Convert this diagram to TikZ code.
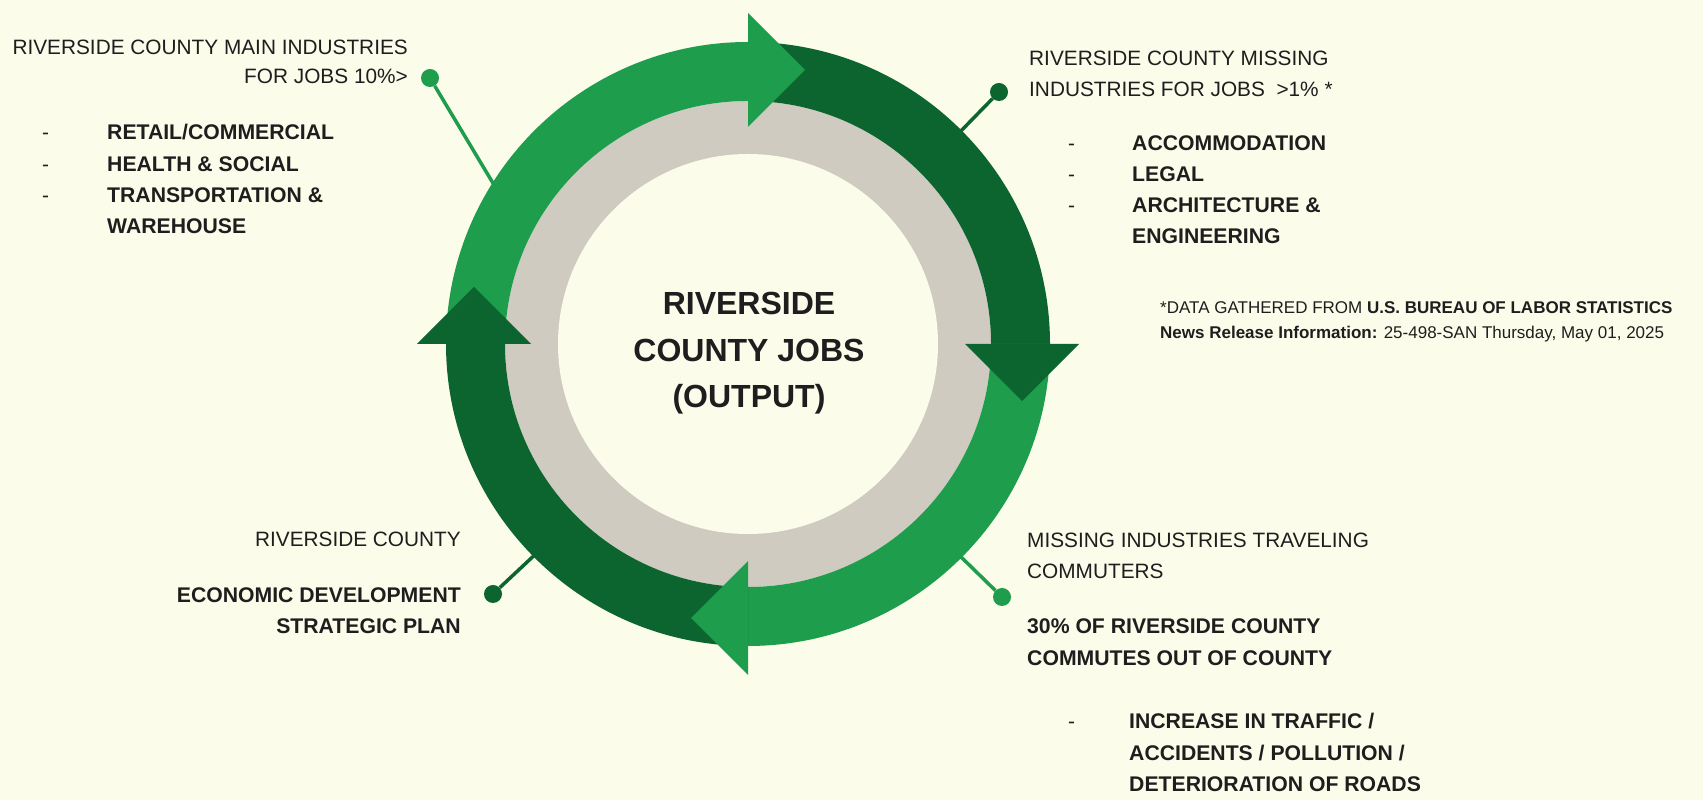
\documentclass[tikz,border=0pt]{standalone}
\usepackage{fontspec}
\setmainfont{Liberation Sans}
\usepackage{tikz}
\usetikzlibrary{calc}
\definecolor{paper}{RGB}{252,252,234}
\definecolor{ltgreen}{RGB}{30,158,76}
\definecolor{dkgreen}{RGB}{12,100,46}
\definecolor{ringgray}{RGB}{207,203,192}
\definecolor{ink}{RGB}{30,30,30}
\def\ringband[#1](#2)(#3:#4){\fill[#1] ($(#2)+(#3:302)$) arc (#3:#4:302) -- ($(#2)+(#4:243)$) arc (#4:#3:243) -- cycle;}
\def\ringhead[#1](#2)(#3){\fill[#1] ($(#2)+(#3:217)$) -- ($(#2)+(#3:331)$) -- ($(#2)+(#3:274)+(#3-90:57)$) -- cycle;}
\tikzset{
	txt/.style={inner sep=0, text=ink, font=\fontsize{20.8}{25}\selectfont},
	txtb/.style={inner sep=0, text=ink, font=\bfseries\fontsize{21.2}{25}\selectfont},
	txtnote/.style={inner sep=0, text=ink, font=\fontsize{17}{20}\selectfont},
	txtbig/.style={inner sep=0, text=ink, anchor=base, font=\bfseries\fontsize{32}{40}\selectfont},
	knob/.style={circle, inner sep=0, minimum size=18},
	stem/.style={line width=3.5}
}
\begin{document}
\begin{tikzpicture}[x=1pt,y=1pt]
		%%%%% START %%%%%
		
		\useasboundingbox (0,0) rectangle (1703,800);
		\fill[paper] (0,0) rectangle (1703,800);
		
		\coordinate (C) at (748,456);
		\coordinate (rTL) at ($(C)+(148.3:296)$);
		\coordinate (rTR) at ($(C)+(45:296)$);
		\coordinate (rBL) at ($(C)+(224.7:296)$);
		\coordinate (rBR) at ($(C)+(-45:296)$);
		
		\node[knob, fill=ltgreen] (kTL) at (430,722) {};
		\node[knob, fill=dkgreen] (kTR) at (999,708) {};
		\node[knob, fill=dkgreen] (kBL) at (493,206) {};
		\node[knob, fill=ltgreen] (kBR) at (1002,203) {};
		
		\draw[stem, ltgreen] (kTL) -- (rTL);
		\draw[stem, dkgreen] (kTR) -- (rTR);
		\draw[stem, dkgreen] (kBL) -- (rBL);
		\draw[stem, ltgreen] (kBR) -- (rBR);
		
		% ring
		\fill[ringgray] (C) circle (243);
		\fill[paper] (C) circle (190);
		
		\ringband[ltgreen](C)(180:90);
		\ringband[dkgreen](C)(90:0);
		\ringband[ltgreen](C)(0:-90);
		\ringband[dkgreen](C)(-90:-180);
		
		\ringhead[ltgreen](C)(90);
		\ringhead[dkgreen](C)(0);
		\ringhead[ltgreen](C)(-90);
		\ringhead[dkgreen](C)(-180);
		
		\node[txtbig] (mid1) at (749,485) {RIVERSIDE};
		\node[txtbig] (mid2) at (749,438) {COUNTY JOBS};
		\node[txtbig] (mid3) at (749,392) {(OUTPUT)};
		
		% top left
		\node[txt, anchor=base east] (tl1) at (408,745) {RIVERSIDE COUNTY MAIN INDUSTRIES};
		\node[txt, anchor=base east] (tl2) at (408,716) {FOR JOBS 10\%>};
		\node[txt, anchor=base west] at (42,660) {-};
		\node[txt, anchor=base west] at (42,628) {-};
		\node[txt, anchor=base west] at (42,597) {-};
		\node[txtb, anchor=base west] (tl3) at (107,660) {RETAIL/COMMERCIAL};
		\node[txtb, anchor=base west] (tl4) at (107,628) {HEALTH \& SOCIAL};
		\node[txtb, anchor=base west] (tl5) at (107,597) {TRANSPORTATION \&};
		\node[txtb, anchor=base west] (tl6) at (107,566) {WAREHOUSE};
		
		% top right
		\node[txt, anchor=base west] (tr1) at (1029,734) {RIVERSIDE COUNTY MISSING};
		\node[txt, anchor=base west] (tr2) at (1029,703) {INDUSTRIES FOR JOBS \ >1\% *};
		\node[txt, anchor=base west] at (1068,649) {-};
		\node[txt, anchor=base west] at (1068,618) {-};
		\node[txt, anchor=base west] at (1068,587) {-};
		\node[txtb, anchor=base west] (tr3) at (1132,649) {ACCOMMODATION};
		\node[txtb, anchor=base west] (tr4) at (1132,618) {LEGAL};
		\node[txtb, anchor=base west] (tr5) at (1132,587) {ARCHITECTURE \&};
		\node[txtb, anchor=base west] (tr6) at (1132,556) {ENGINEERING};
		
		\node[txtnote, anchor=base west] (nt1) at (1160,486) {*DATA GATHERED FROM \textbf{U.S. BUREAU OF LABOR STATISTICS}};
		\node[txtnote, anchor=base west] (nt2) at (1160,461) {\textbf{News Release Information:} 25-498-SAN Thursday, May 01, 2025};
		
		% bottom left
		\node[txt, anchor=base east] (bl1) at (461,253) {RIVERSIDE COUNTY};
		\node[txtb, anchor=base east] (bl2) at (461,197) {ECONOMIC DEVELOPMENT};
		\node[txtb, anchor=base east] (bl3) at (461,166) {STRATEGIC PLAN};
		
		% bottom right
		\node[txt, anchor=base west] (br1) at (1027,252) {MISSING INDUSTRIES TRAVELING};
		\node[txt, anchor=base west] (br2) at (1027,221) {COMMUTERS};
		\node[txtb, anchor=base west] (br3) at (1027,166) {30\% OF RIVERSIDE COUNTY};
		\node[txtb, anchor=base west] (br4) at (1027,134) {COMMUTES OUT OF COUNTY};
		\node[txt, anchor=base west] at (1068,71) {-};
		\node[txtb, anchor=base west] (br5) at (1129,71) {INCREASE IN TRAFFIC /};
		\node[txtb, anchor=base west] (br6) at (1129,39) {ACCIDENTS / POLLUTION /};
		\node[txtb, anchor=base west] (br7) at (1129,8) {DETERIORATION OF ROADS};
		
		%%%%% END %%%%%
	\end{tikzpicture}
\end{document}
